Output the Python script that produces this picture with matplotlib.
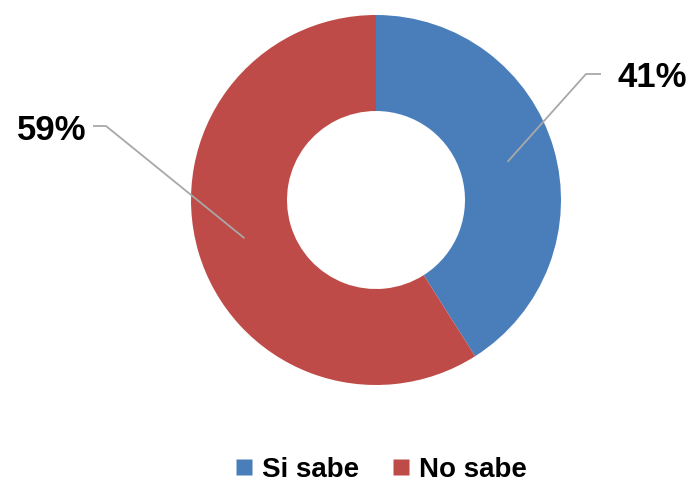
import matplotlib
matplotlib.use('Agg')
import matplotlib.pyplot as plt
from matplotlib.lines import Line2D
import numpy as np

categories = ['Si sabe', 'No sabe']
values = [41, 59]
labels = ['41%', '59%']
colors = ['#4a7ebb', '#be4b48']

FONT = ['Liberation Sans Narrow', 'Liberation Sans', 'DejaVu Sans']

fig = plt.figure(figsize=(6.92, 4.90), dpi=100)
ax = fig.add_axes([0, 0, 1, 1])
cx, cy, R, W = 376, 290, 185, 96
wedges, _ = ax.pie(values, colors=colors, startangle=90, counterclock=False,
                   center=(cx, cy), radius=R, frame=True,
                   wedgeprops=dict(width=W, edgecolor='none', linewidth=0))
ax.set_xlim(0, 692)
ax.set_ylim(0, 490)
ax.set_aspect('equal')
ax.axis('off')

# label layout: (text x, text y, ha, elbow x, tail x, line y)
layout = [
    (617, 412, 'left', 586, 601, 416),
    (86, 360, 'right', 106, 93, 364),
]
for w, lab, (tx, ty, ha, ex, tl, ly) in zip(wedges, labels, layout):
    th = np.deg2rad((w.theta1 + w.theta2) / 2)
    r = R - W / 2
    axp, ayp = cx + r * np.cos(th), cy + r * np.sin(th)
    ax.plot([axp, ex, tl], [ayp, ly, ly], color='#a8a8a8', lw=1.3,
            solid_capstyle='butt', zorder=3)
    ax.text(tx, ty, lab, ha=ha, va='center', fontsize=25, fontweight='bold',
            family=FONT, color='black')

handles = [Line2D([0], [0], marker='s', color='none', markerfacecolor=c,
                  markeredgecolor='none', markersize=11) for c in colors]
fig.legend(handles, categories, loc='center', bbox_to_anchor=(0.551, 20 / 490),
           ncol=2, frameon=False, handlelength=0.6, handletextpad=0.35,
           columnspacing=1.2, prop=dict(family=FONT, weight='bold', size=20))

fig.savefig('out.png', dpi=100)
